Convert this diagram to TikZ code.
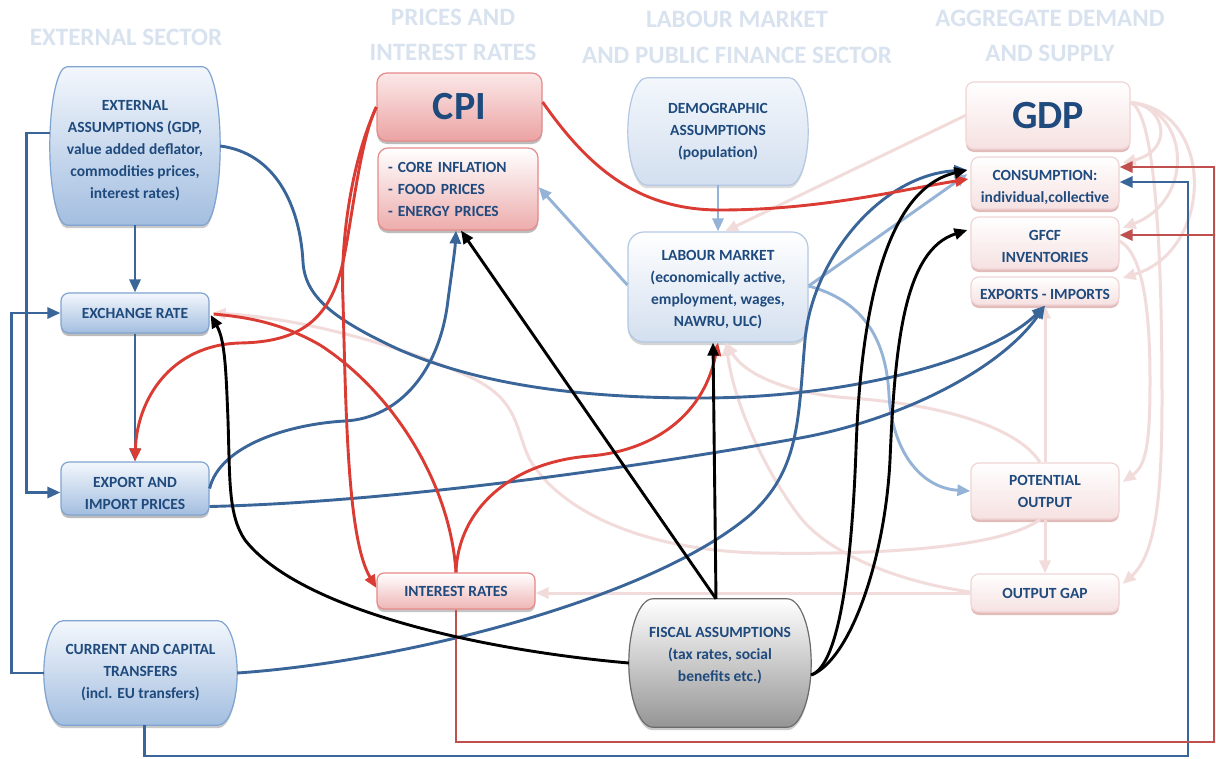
\documentclass[tikz,border=0pt]{standalone}
\usepackage{fontspec}
\setmainfont{Carlito}
\usetikzlibrary{arrows.meta,calc,shadows,backgrounds}

\definecolor{txtblue}{HTML}{1F4A7D}
\definecolor{hdr}{HTML}{D9E3F0}
\definecolor{lndark}{HTML}{3A6599}
\definecolor{lnlight}{HTML}{95B3D7}
\definecolor{lnred}{HTML}{DA3B33}
\definecolor{lnframe}{HTML}{C0504D}
\definecolor{lnpale}{HTML}{F2DCDB}
\definecolor{bluedraw}{HTML}{7FA4D1}
\definecolor{bluetop}{HTML}{F3F7FC}
\definecolor{bluebot}{HTML}{A3BEE0}
\definecolor{labdraw}{HTML}{B3C8E4}
\definecolor{labbot}{HTML}{D3DFEF}
\definecolor{reddraw}{HTML}{E68A8A}
\definecolor{redtop}{HTML}{FCE8E8}
\definecolor{redbot}{HTML}{EBA3A3}
\definecolor{paledraw}{HTML}{F1D4D4}
\definecolor{palebot}{HTML}{F6E1E1}
\definecolor{paleshadow}{HTML}{D9A5A5}
\definecolor{graybot}{HTML}{959595}
\definecolor{graydraw}{HTML}{6B6B6B}

% barrel outline around a node: straight top and bottom, bulging sides
\newcommand\barrelshape[3]{%
\path[#3] ($(#1.north west)+(#2,0)$) -- ($(#1.north east)+(-#2,0)$)
 .. controls ($(#1.north east)+(-0.45*#2,0)$) and ($(#1.east)!0.55!(#1.north east)$) .. (#1.east)
 .. controls ($(#1.east)!0.55!(#1.south east)$) and ($(#1.south east)+(-0.45*#2,0)$) .. ($(#1.south east)+(-#2,0)$)
 -- ($(#1.south west)+(#2,0)$)
 .. controls ($(#1.south west)+(0.45*#2,0)$) and ($(#1.west)!0.55!(#1.south west)$) .. (#1.west)
 .. controls ($(#1.west)!0.55!(#1.north west)$) and ($(#1.north west)+(0.45*#2,0)$) .. ($(#1.north west)+(#2,0)$) -- cycle;}

\tikzset{
  every node/.style={font=\bfseries\fontsize{15.5}{22}\selectfont, text=txtblue, align=center, inner sep=0pt},
  hdrtext/.style={font=\bfseries\fontsize{25}{30}\selectfont, text=hdr},
  boxshadow/.style={drop shadow={shadow xshift=0pt,shadow yshift=-3pt,fill=#1,opacity=0.75}},
  bluerect/.style={rounded corners=8pt, draw=bluedraw, line width=1.2pt, top color=bluetop, bottom color=bluebot, boxshadow=gray!70},
  labrect/.style={rounded corners=16pt, draw=labdraw, line width=1.2pt, top color=white, bottom color=labbot, boxshadow=gray!45},
  redrect/.style={rounded corners=10pt, draw=reddraw, line width=1.2pt, top color=redtop, bottom color=redbot, boxshadow=gray!70},
  redsub/.style={rounded corners=10pt, draw=reddraw, line width=1.2pt, top color=white, bottom color=redbot!90, boxshadow=gray!70},
  redlight/.style={rounded corners=7pt, draw=reddraw, line width=1.2pt, top color=white, bottom color=redbot!80, boxshadow=gray!60},
  palerect/.style={rounded corners=8pt, draw=paledraw, line width=1.2pt, top color=white, bottom color=palebot, boxshadow=paleshadow},
  barrelnode/.style={draw=none},
  tipend/.style={-{Triangle[length=13pt,width=11pt]}},
  ldark/.style={line width=2.9pt, draw=lndark, tipend},
  llight/.style={line width=2.9pt, draw=lnlight, tipend},
  lred/.style={line width=2.9pt, draw=lnred, tipend},
  lframe/.style={line width=2.9pt, draw=lnframe, tipend},
  lblack/.style={line width=2.9pt, draw=black, tipend},
  lpale/.style={line width=3pt, draw=lnpale, tipend},
}

\begin{document}
\begin{tikzpicture}[x=1pt,y=-1pt]
\useasboundingbox (0,0) rectangle (1216,758);

% column headings
\node[hdrtext] (hext) at (126,37) {EXTERNAL SECTOR};
\node[hdrtext] (hpri1) at (453,17) {PRICES AND};
\node[hdrtext] (hpri2) at (453,52) {INTEREST RATES};
\node[hdrtext] (hlab1) at (737,19) {LABOUR MARKET};
\node[hdrtext] (hlab2) at (737,55) {AND PUBLIC FINANCE SECTOR};
\node[hdrtext] (hagg1) at (1050,18) {AGGREGATE DEMAND};
\node[hdrtext] (hagg2) at (1050,53) {AND SUPPLY};

% external sector
\node[barrelnode, minimum width=170pt, minimum height=158pt] (ext) at (135,146) {};
\node (exttext) at (135,150.5)
  {EXTERNAL\\ASSUMPTIONS (GDP,\\value added deflator,\\commodities prices,\\interest rates)};
\node[bluerect, minimum width=148pt, minimum height=40pt] (xr) at (135,313) {EXCHANGE RATE};
\node[bluerect, minimum width=148pt, minimum height=53pt] (eip) at (135,488.5) {};
\node (eiptext) at (135,493) {EXPORT AND\\IMPORT PRICES};
\node[barrelnode, minimum width=193pt, minimum height=104pt] (cct) at (140.5,673)
  {CURRENT AND CAPITAL\\TRANSFERS\\(incl. EU transfers)};

% prices and interest rates
\node[redrect, minimum width=165pt, minimum height=68pt, font=\bfseries\fontsize{40}{40}\selectfont] (cpi) at (459.5,107) {CPI};
\node[redsub, minimum width=160pt, minimum height=82pt, text width=140pt, inner xsep=10pt, align=left] (cpisub) at (458,189)
  {- CORE INFLATION\\- FOOD PRICES\\- ENERGY PRICES};
\node[redlight, minimum width=158pt, minimum height=36pt] (ir) at (456,591) {INTEREST RATES};

% labour market and public finance
\node[barrelnode, minimum width=180pt, minimum height=107pt] (demo) at (718,131.5) {DEMOGRAPHIC\\ASSUMPTIONS\\(population)};
\node[labrect, minimum width=180pt, minimum height=110pt] (lab) at (718,287) {};
\node (labtext) at (718,290) {LABOUR MARKET\\(economically active,\\employment, wages,\\NAWRU, ULC)};
\node[barrelnode, minimum width=182pt, minimum height=128pt] (fis) at (720,663) {};
\node (fistext) at (720,656) {FISCAL ASSUMPTIONS\\(tax rates, social\\benefits etc.)};

% aggregate demand and supply
\node[palerect, minimum width=164pt, minimum height=67pt, font=\bfseries\fontsize{40}{40}\selectfont] (gdp) at (1048,115.5) {GDP};
\node[palerect, minimum width=148pt, minimum height=52pt] (cons) at (1045,183) {};
\node (constext) at (1045,187) {CONSUMPTION:\\individual,collective};
\node[palerect, minimum width=148pt, minimum height=52pt] (gfcf) at (1045,243) {};
\node (gfcftext) at (1045,246) {GFCF\\INVENTORIES};
\node[palerect, minimum width=148pt, minimum height=28pt] (exim) at (1045,291) {};
\node (eximtext) at (1045,294) {EXPORTS - IMPORTS};
\node[palerect, minimum width=148pt, minimum height=56pt] (pot) at (1045,491) {POTENTIAL\\OUTPUT};
\node[palerect, minimum width=148pt, minimum height=38pt] (gap) at (1045,593) {OUTPUT GAP};

\coordinate (bluecorner) at (1188,756);
\coordinate (redcorner) at (1214,742);

% barrel-shaped boxes behind their texts
\begin{pgfonlayer}{background}
\fill[white] (0,0) rectangle (1216,758);
\barrelshape{ext}{17}{fill=gray!70, opacity=0.6, transform canvas={yshift=-3pt}}
\barrelshape{ext}{17}{draw=bluedraw, line width=1.2pt, top color=bluetop, bottom color=bluebot}
\barrelshape{cct}{19}{fill=gray!70, opacity=0.6, transform canvas={yshift=-3pt}}
\barrelshape{cct}{19}{draw=bluedraw, line width=1.2pt, top color=bluetop, bottom color=bluebot}
\barrelshape{demo}{19}{fill=gray!45, opacity=0.6, transform canvas={yshift=-3pt}}
\barrelshape{demo}{19}{draw=labdraw, line width=1.2pt, top color=bluetop, bottom color=labbot}
\barrelshape{fis}{24}{fill=gray!70, opacity=0.6, transform canvas={yshift=-3pt}}
\barrelshape{fis}{24}{draw=graydraw, line width=1.2pt, top color=white, bottom color=graybot}
\end{pgfonlayer}

% pale links of the demand and supply block
\draw[lpale] (gdp.west) -- ($(lab.north)+(7,0)$);
\draw[lpale] ($(gdp.east)+(0,-13)$) .. controls (1165,105) and (1175,150) .. ($(cons.east)+(3,-20)$);
\draw[lpale] ($(gdp.east)+(0,-13)$) .. controls (1190,110) and (1195,200) .. ($(gfcf.east)+(3,-15)$);
\draw[lpale] ($(gdp.east)+(0,-13)$) .. controls (1215,110) and (1215,250) .. ($(exim.east)+(3,-13)$);
\draw[lpale] ($(gdp.east)+(0,-13)$) .. controls (1150,110) and (1162,200) .. (1162,400) .. controls (1162,500) and (1155,555) .. ($(gap.east)+(3,-9)$);
\draw[lpale] ($(gfcf.east)+(0,-2)$) .. controls (1145,255) and (1150,320) .. (1150,380) .. controls (1150,440) and (1147,465) .. ($(pot.east)+(3,-9)$);
\draw[lpale] (pot.north) -- (exim.south);
\draw[lpale] (pot.south) -- (gap.north);
\draw[lpale] (gap.west) -- (gap.west -| ir.east);
\draw[lpale] ($(pot.south)+(-5,0)$) .. controls (1000,548) and (880,555) .. (760,553) .. controls (640,550) and (560,510) .. (530,460) .. controls (515,430) and (520,400) .. (470,377) .. controls (400,345) and (300,318) .. ($(xr.east)+(3,0)$);
\draw[lpale] ($(gap.west)+(0,-1)$) .. controls (900,582) and (830,555) .. (800,517) .. controls (770,478) and (735,410) .. ($(lab.south)+(8,0)$);
\draw[lpale] ($(pot.north)+(-5,0)$) .. controls (1020,430) and (950,405) .. (850,398) .. controls (790,394) and (745,375) .. ($(lab.south)+(8,0)$);

% labour market links
\draw[llight] (demo.south) -- (lab.north);
\draw[llight] ($(lab.west)+(0,-2)$) -- ($(cpisub.east)+(0,-2)$);
\draw[llight] ($(lab.east)+(0,-1)$) -- ($(cons.west)+(-3,-9)$);
\draw[llight] ($(lab.east)+(0,-1)$) .. controls (860,300) and (886,335) .. (889,395) .. controls (892,450) and (920,488) .. (pot.west);

% external sector links
\draw[ldark] ($(ext.west)+(0,-13)$) -- ++(-23,0) |- ($(eip.west)+(0,4)$);
\draw[ldark] (cct.west) -- ++(-32,0) |- (xr.west);
\draw[ldark] (ext.south) -- (xr.north);
\draw[ldark] (xr.south) -- (eip.north);
\draw[ldark] (ext.east) .. controls (275,153) and (300,205) .. (303,262) .. controls (305,295) and (330,318) .. (400,350) .. controls (470,380) and (560,398) .. (700,398) .. controls (850,398) and (990,360) .. (exim.south);
\draw[ldark] ($(eip.east)+(0,18)$) .. controls (400,502) and (650,465) .. (800,438) .. controls (900,420) and (1000,370) .. (exim.south);
\draw[ldark] (eip.east) .. controls (220,445) and (290,424) .. (345,421) .. controls (400,418) and (440,370) .. (448,300) .. controls (452,270) and (455,250) .. ($(cpisub.south)+(-2,0)$);
\draw[ldark] (cct.east) .. controls (400,662) and (650,600) .. (750,515) .. controls (800,470) and (798,420) .. (805,340) .. controls (812,260) and (880,175) .. ($(cons.west)+(-3,-13)$);
\draw[ldark] ($(cct.south)+(4,0)$) |- (bluecorner) |- ($(cons.east)+(0,-1)$);

% price and interest rate links
\draw[lred] ($(cpi.east)+(0,-5)$) .. controls (590,170) and (640,210) .. (720,210) .. controls (820,210) and (900,190) .. ($(cons.west)+(-2,-4)$);
\draw[lred] (cpi.west) .. controls (360,140) and (352,220) .. (343,262) .. controls (330,320) and (300,342) .. (240,343) .. controls (170,345) and (137,400) .. (eip.north);
\draw[lred] (cpi.west) .. controls (352,160) and (340,240) .. (343,300) .. controls (346,420) and (348,540) .. ($(ir.west)+(0,-3)$);
\draw[lred, -] (ir.north) .. controls (450,480) and (390,390) .. (320,345) .. controls (280,322) and (245,317) .. ($(xr.east)+(4,1)$);
\draw[lred] (ir.north) .. controls (458,510) and (510,462) .. (590,456) .. controls (660,450) and (705,410) .. (lab.south);
\draw[lframe] (ir.south) |- (redcorner) |- ($(cons.east)+(0,-16)$);
\draw[lframe] (redcorner) |- ($(gfcf.east)+(0,-8)$);

% fiscal links
\draw[lblack] ($(fis.north)+(-4,0)$) -- ($(cpisub.south)+(3,0)$);
\draw[lblack] ($(fis.north)+(-4,0)$) -- ($(lab.south)+(-5,0)$);
\draw[lblack] (fis.west) .. controls (480,650) and (300,610) .. (245,540) .. controls (228,515) and (230,480) .. (228,420) .. controls (226,370) and (225,340) .. ($(xr.east)+(1,2)$);
\draw[lblack] ($(fis.east)+(0,12)$) .. controls (840,665) and (852,560) .. (856,450) .. controls (860,330) and (880,190) .. ($(cons.west)+(-3,-13)$);
\draw[lblack] ($(fis.east)+(0,12)$) .. controls (850,660) and (885,560) .. (890,460) .. controls (895,340) and (905,250) .. ($(gfcf.west)+(-3,-13)$);
\end{tikzpicture}
\end{document}
